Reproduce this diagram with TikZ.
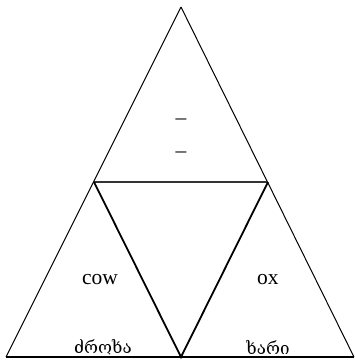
\documentclass[tikz,border=0pt]{standalone}
\usepackage{fontspec}
\setmainfont{Liberation Serif}
\newfontfamily\geofont[Script=Georgian]{DejaVu Serif}
\begin{document}
\begin{tikzpicture}[x=1pt,y=-1pt,
  outer/.style={draw=black,line width=1pt},
  inner/.style={draw=black,line width=1.8pt},
  lbl/.style={font=\fontsize{21.5}{23}\selectfont,inner sep=0pt},
  geo/.style={font=\geofont\fontsize{17}{19}\selectfont,inner sep=0pt}]
\useasboundingbox (0,0) rectangle (355,360);
\coordinate (A) at (181,7);
\coordinate (L) at (6,357);
\coordinate (R) at (354,357);
\coordinate (ML) at (94,182);
\coordinate (MR) at (268,182);
\coordinate (MB) at (181,357);
\draw[outer] (A) -- (L);
\draw[outer] (A) -- (R);
\draw[line width=1.8pt] (L) -- (R);
\draw[line width=1.5pt,draw=black!80] (ML) -- (MR);
\draw[inner] (ML) -- (MB) -- (MR);
\node[lbl] (d1) at (181,122) {–};
\node[lbl] (d2) at (181,155) {–};
\node[lbl] (cow) at (100,280) {cow};
\node[lbl] (ox) at (268,280) {ox};
\node[geo] (g1) at (103,347) {ძროხა};
\node[geo] (g2) at (268,347) {ხარი};
\end{tikzpicture}
\end{document}
